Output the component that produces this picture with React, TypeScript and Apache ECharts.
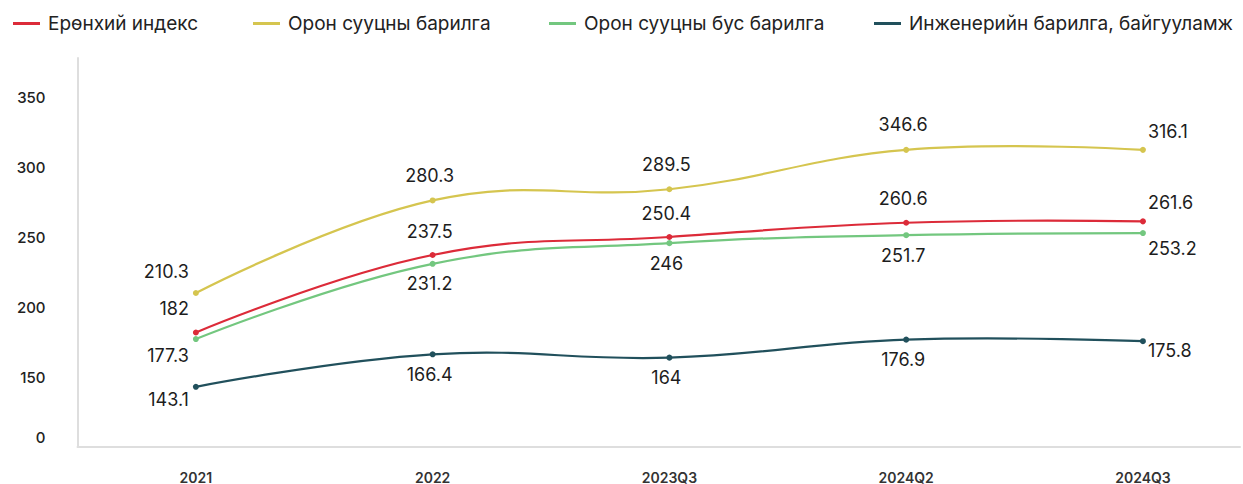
import React, { useEffect, useRef } from "react";
import * as echarts from "echarts";

const categories = ["2021", "2022", "2023Q3", "2024Q2", "2024Q3"];

const seriesNames = [
  "Ерөнхий индекс",
  "Орон сууцны барилга",
  "Орон сууцны бус барилга",
  "Инженерийн барилга, байгууламж",
];

const generalIndex = [182, 237.5, 250.4, 260.6, 261.6];
const residentialValues = [210.3, 276.6, 284.6, 312.8, 312.8];
const residentialLabels = ["210.3", "280.3", "289.5", "346.6", "316.1"];
const nonResidential = [177.3, 231.2, 246, 251.7, 253.2];
const engineering = [143.1, 166.4, 164, 176.9, 175.8];

const yTickValues = [100, 150, 200, 250, 300, 350];
const yTickLabels = ["0", "150", "200", "250", "300", "350"];

const colors = ["#dc2b39", "#d5c54f", "#73c77f", "#21505c"];

export default function App() {
  const ref = useRef<HTMLDivElement>(null);

  useEffect(() => {
    if (!ref.current) return;
    const chart = echarts.init(ref.current, null, { renderer: "svg" });
    const font = "Inter, Roboto, 'Noto Sans', sans-serif";
    const tension = 0.21;

    const curveSeries = (idx: number, values: number[]) => ({
      name: "curve-" + idx,
      type: "custom",
      z: 2,
      silent: true,
      data: values.map((v, i) => [i, v]),
      renderItem: (params: any, api: any) => {
        if (params.dataIndex !== 0) return { type: "group", children: [] };
        const pts = values.map((v, i) => api.coord([i, v]));
        let d = `M${pts[0][0]},${pts[0][1]}`;
        for (let i = 0; i < pts.length - 1; i++) {
          const p0 = pts[Math.max(0, i - 1)];
          const p1 = pts[i];
          const p2 = pts[i + 1];
          const p3 = pts[Math.min(pts.length - 1, i + 2)];
          const f1 = i === 0 ? 0 : tension;
          const f2 = i + 1 === pts.length - 1 ? 0 : tension;
          const c1x = p1[0] + (p2[0] - p0[0]) * f1;
          const c1y = p1[1] + (p2[1] - p0[1]) * f1;
          const c2x = p2[0] - (p3[0] - p1[0]) * f2;
          const c2y = p2[1] - (p3[1] - p1[1]) * f2;
          d += ` C${c1x},${c1y} ${c2x},${c2y} ${p2[0]},${p2[1]}`;
        }
        return {
          type: "path",
          shape: { pathData: d },
          style: { stroke: colors[idx], lineWidth: 2.2, fill: "none" },
        };
      },
    });

    const pointSeries = (
      idx: number,
      values: number[],
      labels: string[],
      dyMid: number,
      dyFirst: number,
      dyLast: number
    ) => ({
      name: seriesNames[idx],
      type: "line",
      symbol: "circle",
      symbolSize: 6,
      lineStyle: { color: colors[idx], width: 0, opacity: 0 },
      itemStyle: { color: colors[idx] },
      z: 5,
      data: values.map((v, i) => {
        const last = i === values.length - 1;
        const first = i === 0;
        return {
          value: [i, v],
          label: {
            show: true,
            position: "inside",
            align: first ? "right" : last ? "left" : "center",
            offset: first ? [-7, dyFirst] : last ? [5, dyLast] : [-3, dyMid],
            formatter: () => labels[i],
            color: "#1d1d1d",
            fontSize: 18,
            fontFamily: font,
          },
        };
      }),
    });

    const legendBase = (idx: number, left: number) => ({
      data: [{ name: seriesNames[idx], itemStyle: { color: colors[idx] } }],
      left,
      top: 9,
      icon: "rect",
      itemWidth: 27,
      itemHeight: 3,
      textStyle: {
        color: "#222",
        fontSize: 19,
        fontFamily: font,
        padding: [0, 0, 0, 3],
      },
    });

    chart.setOption({
      animation: false,
      backgroundColor: "#ffffff",
      legend: [
        legendBase(0, 8),
        legendBase(1, 248),
        legendBase(2, 544),
        legendBase(3, 869),
      ],
      grid: { left: 77.5, right: 3, top: 58, bottom: 37, containLabel: false },
      xAxis: {
        type: "value",
        min: -0.5,
        max: 4.41,
        interval: 0.5,
        axisLine: { show: true, onZero: false, lineStyle: { color: "#dedede", width: 2 } },
        axisTick: { show: false },
        splitLine: { show: false },
        axisLabel: {
          margin: 23,
          color: "#333",
          fontSize: 14,
          fontWeight: 600,
          fontFamily: font,
          showMaxLabel: false,
          showMinLabel: false,
          formatter: (v: number) => {
            const r = Math.round(v);
            return Math.abs(v - r) < 1e-6 && r >= 0 && r < categories.length ? categories[r] : "";
          },
        },
      },
      yAxis: {
        type: "value",
        min: 100,
        max: 378.6,
        interval: 50,
        axisLine: { show: true, onZero: false, lineStyle: { color: "#dedede", width: 2 } },
        axisTick: { show: false },
        splitLine: { show: false },
        axisLabel: {
          margin: 32,
          color: "#222",
          fontSize: 15,
          fontWeight: 500,
          fontFamily: font,
          showMaxLabel: false,
          formatter: (v: number) => {
            const k = yTickValues.indexOf(Math.round(v));
            if (k < 0 || Math.abs(v - Math.round(v)) > 1e-6) return "";
            return k === 0 ? "{z|" + yTickLabels[k] + "}" : yTickLabels[k];
          },
          rich: {
            z: { padding: [0, 0, 20, 0], fontSize: 15, fontWeight: 500, color: "#222", fontFamily: font },
          },
        },
      },
      series: [
        curveSeries(3, engineering),
        curveSeries(2, nonResidential),
        curveSeries(0, generalIndex),
        curveSeries(1, residentialValues),
        pointSeries(1, residentialValues, residentialLabels, -25, -21, -18),
        pointSeries(0, generalIndex, generalIndex.map(String), -24, -24, -19),
        pointSeries(2, nonResidential, nonResidential.map(String), 20, 16, 15),
        pointSeries(3, engineering, engineering.map(String), 20, 13, 9),
      ],
    });

    return () => chart.dispose();
  }, []);

  return (
    <div
      ref={ref}
      style={{ position: "fixed", left: 0, top: 0, width: 1243, height: 484 }}
    />
  );
}
